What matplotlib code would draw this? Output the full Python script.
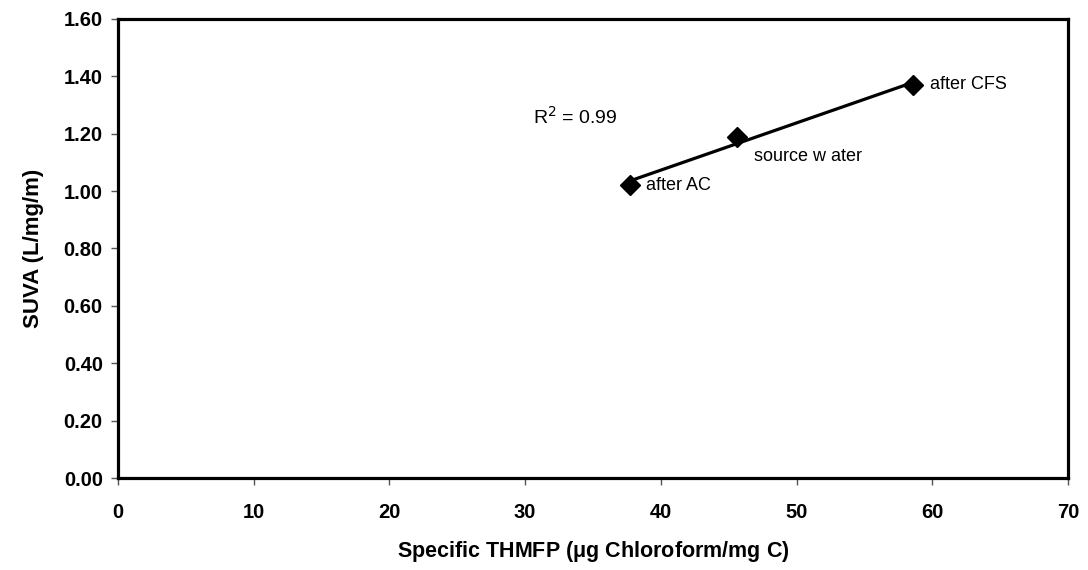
import numpy as np
import matplotlib
matplotlib.use("Agg")
import matplotlib.pyplot as plt
from matplotlib.ticker import FormatStrFormatter

plt.rcParams['font.family'] = ['Liberation Sans', 'DejaVu Sans']

# data
thmfp = [37.7, 45.6, 58.6]
suva = [1.02, 1.19, 1.37]
labels = ['after AC', 'source w ater', 'after CFS']
label_offsets = [(12, 0), (12, -14), (12, 0)]

fig = plt.figure(figsize=(10.88, 5.70), dpi=100)
ax = fig.add_axes([0.1085, 0.1614, 0.8731, 0.8053])

# trend line
k, b = np.polyfit(thmfp, suva, 1)
xs = np.array([min(thmfp), max(thmfp)])
ax.plot(xs, k * xs + b, color='black', lw=2.3, zorder=2)
ax.plot(thmfp, suva, 'D', color='black', markersize=10, zorder=3)

for x, y, t, off in zip(thmfp, suva, labels, label_offsets):
    ax.annotate(t, (x, y), xytext=off, textcoords='offset points',
                fontsize=13, va='center', ha='left')

ax.text(30.6, 1.258, r'R$^2$ = 0.99', fontsize=14, va='center', ha='left')

ax.set_xlim(0, 70)
ax.set_ylim(0, 1.6)
ax.set_xticks(np.arange(0, 71, 10))
ax.set_yticks(np.arange(0, 1.61, 0.2))
ax.yaxis.set_major_formatter(FormatStrFormatter('%.2f'))
for lab in ax.get_xticklabels() + ax.get_yticklabels():
    lab.set_fontweight('bold')
ax.tick_params(direction='out', length=5, width=1, color='#555555',
               labelsize=14.5, pad=6)
ax.tick_params(axis='x', pad=13)
for s in ax.spines.values():
    s.set_linewidth(2.3)

ax.set_xlabel(r'Specific THMFP ($\mathregular{\mu}$g Chloroform/mg C)',
              fontsize=15.5, fontweight='bold', labelpad=12)
ax.set_ylabel('SUVA (L/mg/m)', fontsize=16, fontweight='bold', labelpad=14)

fig.savefig('out.png', dpi=100)
